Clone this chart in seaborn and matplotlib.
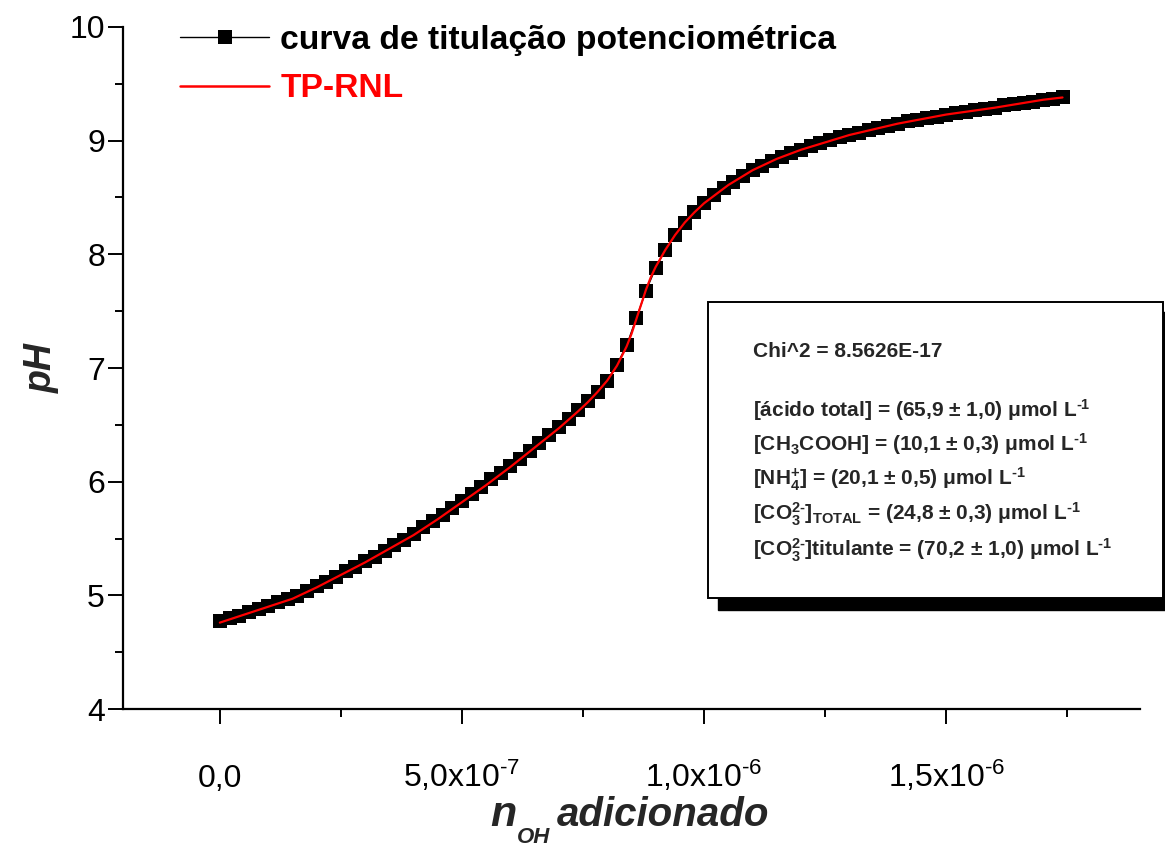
import numpy as np
import pandas as pd
import matplotlib
matplotlib.use("Agg")
import matplotlib.pyplot as plt
from matplotlib import font_manager
from matplotlib.ticker import MultipleLocator, FixedLocator, FixedFormatter
from matplotlib.lines import Line2D
from matplotlib.patches import Rectangle
import seaborn as sns

# ---- data -------------------------------------------------------------
# titrant added (units of 1e-7 mol) and measured pH
n_oh_e7 = [0.0, 0.2, 0.4, 0.6, 0.8, 1.0, 1.2, 1.4, 1.6, 1.8,
           2.0, 2.2, 2.4, 2.6, 2.8, 3.0, 3.2, 3.4, 3.6, 3.8,
           4.0, 4.2, 4.4, 4.6, 4.8, 5.0, 5.2, 5.4, 5.6, 5.8,
           6.0, 6.2, 6.4, 6.6, 6.8, 7.0, 7.2, 7.4, 7.6, 7.8,
           8.0, 8.2, 8.4, 8.6, 8.8, 9.0, 9.2, 9.4, 9.6, 9.8,
           10.0, 10.2, 10.4, 10.6, 10.8, 11.0, 11.2, 11.4, 11.6, 11.8,
           12.0, 12.2, 12.4, 12.6, 12.8, 13.0, 13.2, 13.4, 13.6, 13.8,
           14.0, 14.2, 14.4, 14.6, 14.8, 15.0, 15.2, 15.4, 15.6, 15.8,
           16.0, 16.2, 16.4, 16.6, 16.8, 17.0, 17.2, 17.4]
ph_measured = [4.77, 4.80, 4.82, 4.85, 4.88, 4.91, 4.94, 4.97, 4.99, 5.04,
               5.08, 5.12, 5.16, 5.21, 5.25, 5.30, 5.34, 5.39, 5.44, 5.49,
               5.54, 5.60, 5.65, 5.71, 5.77, 5.83, 5.89, 5.95, 6.02, 6.08,
               6.14, 6.20, 6.27, 6.34, 6.41, 6.48, 6.55, 6.63, 6.71, 6.79,
               6.89, 7.03, 7.20, 7.44, 7.68, 7.88, 8.04, 8.17, 8.28, 8.37,
               8.45, 8.52, 8.58, 8.64, 8.69, 8.74, 8.78, 8.82, 8.86, 8.89,
               8.92, 8.95, 8.98, 9.01, 9.03, 9.05, 9.07, 9.09, 9.11, 9.13,
               9.15, 9.17, 9.18, 9.20, 9.21, 9.23, 9.24, 9.25, 9.27, 9.28,
               9.29, 9.31, 9.32, 9.33, 9.34, 9.36, 9.37, 9.38]

# fitted curve (TP-RNL)
fit_n_oh_e7 = [0.0, 0.5, 1.0, 1.5, 2.0, 2.5, 3.0, 3.5, 4.0, 4.5, 5.0, 5.5,
               6.0, 6.5, 7.0, 7.4, 7.6, 7.8, 8.0, 8.2, 8.4, 8.5, 8.6, 8.7,
               8.8, 8.9, 9.0, 9.2, 9.4, 9.6, 9.8, 10.0, 10.5, 11.0, 11.5,
               12.0, 13.0, 14.0, 15.0, 16.0, 17.0, 17.4]
fit_ph = [4.76, 4.83, 4.90, 4.97, 5.07, 5.18, 5.29, 5.41, 5.53, 5.67, 5.82, 5.97,
          6.13, 6.30, 6.47, 6.62, 6.70, 6.79, 6.89, 7.02, 7.19, 7.30, 7.43, 7.56,
          7.69, 7.80, 7.89, 8.04, 8.17, 8.28, 8.37, 8.45, 8.61, 8.74, 8.84,
          8.92, 9.05, 9.15, 9.23, 9.29, 9.36, 9.38]

HY = "\u2010"  # short hyphen used in exponents
x_tick_values = [0.0, 5.0e-7, 1.0e-6, 1.5e-6]
x_tick_labels = ["0,0", "5,0x10$^{%s7}$" % HY, "1,0x10$^{%s6}$" % HY,
                 "1,5x10$^{%s6}$" % HY]
y_tick_values = [4, 5, 6, 7, 8, 9, 10]

SUP_M1 = r"$^{\mathbf{%s1}}$" % HY
fit_results = [
    "Chi^2 = 8.5626E-17",
    "[ácido total] = (65,9 ± 1,0) μmol L" + SUP_M1,
    r"[CH$_{\mathbf{3}}$COOH] = (10,1 ± 0,3) μmol L" + SUP_M1,
    r"[NH$_{\mathbf{4}}^{\mathbf{+}}$] = (20,1 ± 0,5) μmol L" + SUP_M1,
    r"[CO$_{\mathbf{3}}^{\mathbf{2%s}}$]$_{\mathbf{TOTAL}}$ = (24,8 ± 0,3) μmol L" % HY + SUP_M1,
    r"[CO$_{\mathbf{3}}^{\mathbf{2%s}}$]titulante = (70,2 ± 1,0) μmol L" % HY + SUP_M1,
]

# ---- style ------------------------------------------------------------
sns.set_theme(style="ticks")
available = {f.name for f in font_manager.fontManager.ttflist}
narrow = "Liberation Sans Narrow" if "Liberation Sans Narrow" in available else "Liberation Sans"
plt.rcParams["font.family"] = ["Liberation Sans", "DejaVu Sans"]
plt.rcParams["mathtext.fontset"] = "custom"
plt.rcParams["mathtext.rm"] = narrow
plt.rcParams["mathtext.it"] = f"{narrow}:italic:bold"
plt.rcParams["mathtext.bf"] = "Liberation Sans:bold"
plt.rcParams["mathtext.default"] = "rm"

df = pd.DataFrame({"n_oh": np.array(n_oh_e7) * 1e-7, "pH": ph_measured})
df_fit = pd.DataFrame({"n_oh": np.array(fit_n_oh_e7) * 1e-7, "pH": fit_ph})

fig = plt.figure(figsize=(11.65, 8.46), dpi=100)
W, H = 1165, 846
ax = fig.add_axes([123 / W, 1 - 709 / H, (1140 - 123) / W, (709 - 27) / H])

sns.lineplot(data=df, x="n_oh", y="pH", ax=ax, color="black", linewidth=1.0,
             marker="s", markersize=10, markeredgewidth=0, sort=False,
             estimator=None)
sns.lineplot(data=df_fit, x="n_oh", y="pH", ax=ax, color="#ff0000",
             linewidth=1.6, sort=False, estimator=None)

ax.set_xlim(-2.0e-7, 1.9e-6)
ax.set_ylim(4, 10)

for side in ("top", "right"):
    ax.spines[side].set_visible(False)
for side in ("left", "bottom"):
    ax.spines[side].set_linewidth(1.6)
    ax.spines[side].set_color("black")

ax.xaxis.set_major_locator(FixedLocator(x_tick_values))
ax.xaxis.set_major_formatter(FixedFormatter(x_tick_labels))
ax.xaxis.set_minor_locator(MultipleLocator(2.5e-7))
ax.yaxis.set_major_locator(FixedLocator(y_tick_values))
ax.yaxis.set_major_formatter(FixedFormatter([str(v) for v in y_tick_values]))
ax.yaxis.set_minor_locator(MultipleLocator(0.5))

ax.tick_params(axis="both", which="major", direction="out", length=11,
               width=1.4, color="black")
ax.tick_params(axis="both", which="minor", direction="out", length=5.8,
               width=1.4, color="black")
ax.tick_params(axis="y", which="major", labelsize=23, pad=2, labelcolor="black")
ax.tick_params(axis="x", which="major", labelsize=23, pad=45, labelcolor="black")
for lab in ax.get_xticklabels():
    lab.set_fontfamily(narrow)
    lab.set_verticalalignment("baseline")

ax.set_ylabel("pH", fontsize=27, fontweight="bold", fontstyle="italic")
ax.yaxis.set_label_coords(-0.08, 0.5)
ax.yaxis.label.set_verticalalignment("center")

# x axis title: "n" with a lowered "OH" subscript, then "adicionado"
ax.set_xlabel("")
label_style = dict(fontweight="bold", fontstyle="italic", family=narrow,
                   va="baseline", ha="left")
fig.text(490 / W, 1 - 826 / H, "n", fontsize=31, **label_style)
fig.text(517 / W, 1 - 843 / H, "OH", fontsize=16, **label_style)
fig.text(557 / W, 1 - 826 / H, "adicionado", fontsize=29, **label_style)

# legend
handles = [
    Line2D([], [], color="black", linewidth=1.0, marker="s", markersize=10,
           markeredgewidth=0),
    Line2D([], [], color="#ff0000", linewidth=1.8),
]
leg = ax.legend(handles, ["curva de titulação potenciométrica", "TP-RNL"],
                loc="upper left", bbox_to_anchor=((180 - 123) / 1017, (709 - 25) / 682),
                frameon=False, prop={"family": "Liberation Sans", "weight": "bold", "size": 24.2},
                handlelength=2.65, handletextpad=0.33, labelspacing=0.52,
                borderpad=0, borderaxespad=0, numpoints=1, labelcolor="linecolor")

# results box with drop shadow
shadow = Rectangle((718 / W, 1 - 610 / H), (1180 - 718) / W, (610 - 312) / H,
                   transform=fig.transFigure, facecolor="black", edgecolor="black",
                   zorder=5)
box = Rectangle((708 / W, 1 - 598 / H), (1163 - 708) / W, (598 - 302) / H,
                transform=fig.transFigure, facecolor="white", edgecolor="black",
                linewidth=1.4, zorder=6)
fig.patches.extend([shadow, box])

baselines = [357, 417, 451, 485, 520, 556]
for text, yb in zip(fit_results, baselines):
    fig.text(753 / W, 1 - yb / H, text, fontsize=15, fontweight="bold",
             family="Liberation Sans", va="baseline", ha="left", zorder=7)

fig.savefig("out.png", dpi=100)
